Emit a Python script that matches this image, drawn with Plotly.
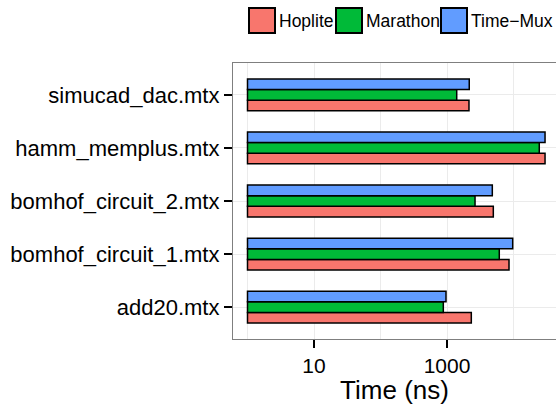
import plotly.graph_objects as go

# ---- data ----
matrices = ["add20.mtx", "bomhof_circuit_1.mtx", "bomhof_circuit_2.mtx",
            "hamm_memplus.mtx", "simucad_dac.mtx"]
hoplite = [2320, 8560, 4970, 29800, 2140]
marathon = [880, 6110, 2640, 24400, 1400]
timemux = [966, 9730, 4800, 29800, 2160]
series_names = ["Hoplite", "Marathon", "Time\u2212Mux"]
series_colors = ["#F8766D", "#00BA38", "#619CFF"]
x_ticks = [10, 1000]
x_minor = [1, 100, 10000]

W, H = 556, 405
L, R, T, B = 233, 0, 63, 66
FONT = "Liberation Sans, Arial, Helvetica, sans-serif"

fig = go.Figure()
for name, vals, col in zip(series_names, [hoplite, marathon, timemux], series_colors):
    fig.add_trace(go.Bar(
        y=matrices, x=[v - 1 for v in vals], base=1, orientation="h",
        name=name, marker=dict(color=col, line=dict(color="black", width=1.5)),
        showlegend=False,
    ))

# manual legend (large boxes like ggplot)
pw = W - L - R
ph = H - T - B
def px2paper_x(px):
    return (px - L) / pw
def px2paper_y(py):
    return (H - B - py) / ph

box_x = [249, 336, 441]
box_w, box_top, box_bot = 26, 8, 33
shapes = []
annotations = []
for bx, name, col in zip(box_x, series_names, series_colors):
    shapes.append(dict(type="rect", xref="paper", yref="paper",
                       x0=px2paper_x(bx), x1=px2paper_x(bx + box_w),
                       y0=px2paper_y(box_bot), y1=px2paper_y(box_top),
                       fillcolor=col, line=dict(color="black", width=2)))
    annotations.append(dict(xref="paper", yref="paper",
                            x=px2paper_x(bx + box_w + 2), y=px2paper_y(20.5),
                            xanchor="left", yanchor="middle", showarrow=False,
                            text=name, font=dict(family=FONT, size=17.5, color="black")))

fig.update_layout(
    width=W, height=H,
    margin=dict(l=L, r=R, t=T, b=B, pad=0),
    barmode="group", bargap=0.4, bargroupgap=0,
    plot_bgcolor="white", paper_bgcolor="white",
    font=dict(family=FONT, color="black"),
    shapes=shapes, annotations=annotations,
    showlegend=False,
)
fig.update_xaxes(
    type="log", range=[-0.218, 4.639],
    tickvals=x_ticks, ticktext=[str(v) for v in x_ticks],
    ticks="outside", ticklen=8, tickwidth=2, tickcolor="black",
    tickfont=dict(family=FONT, size=21, color="black"),
    showgrid=True, gridcolor="#ebebeb", gridwidth=1,
    minor=dict(tickvals=x_minor, showgrid=True, gridcolor="#ebebeb", gridwidth=1, ticks=""),
    showline=True, linecolor="#7f7f7f", linewidth=1.3, mirror=True,
    zeroline=False,
    title=dict(text="Time (ns)", font=dict(family=FONT, size=26, color="black"), standoff=2),
)
fig.update_yaxes(
    type="category", categoryorder="array", categoryarray=matrices,
    range=[-0.6, 4.6],
    ticks="outside", ticklen=8, tickwidth=2, tickcolor="black",
    tickfont=dict(family=FONT, size=22, color="black"),
    showgrid=True, gridcolor="#ebebeb", gridwidth=1,
    showline=True, linecolor="#7f7f7f", linewidth=1.3, mirror=False,
    zeroline=False,
)

fig.write_html("out.html")
